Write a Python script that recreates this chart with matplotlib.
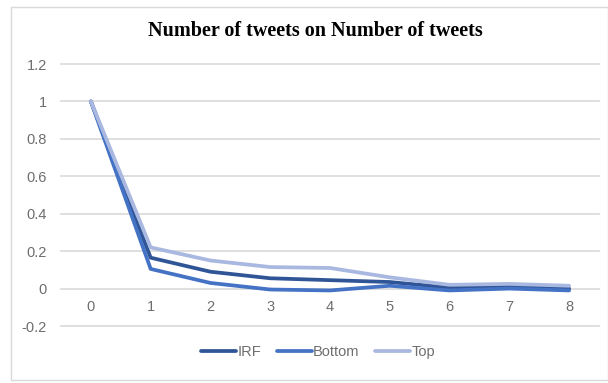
import matplotlib
matplotlib.use("Agg")
import matplotlib.pyplot as plt
from matplotlib.patches import Rectangle

periods = [0, 1, 2, 3, 4, 5, 6, 7, 8]
irf = [1.0, 0.165, 0.09, 0.055, 0.045, 0.035, 0.005, 0.01, 0.0]
bottom = [1.0, 0.105, 0.03, -0.005, -0.01, 0.015, -0.01, 0.0, -0.01]
top = [1.0, 0.22, 0.15, 0.115, 0.11, 0.06, 0.02, 0.025, 0.015]
y_ticks = [-0.2, 0, 0.2, 0.4, 0.6, 0.8, 1, 1.2]
y_labels = ["-0.2", "0", "0.2", "0.4", "0.6", "0.8", "1", "1.2"]

W, H = 608, 383
fig = plt.figure(figsize=(W / 100, H / 100), dpi=100)
fig.patch.set_facecolor("white")

# outer chart frame
fig.patches.append(Rectangle((11 / W, 1 - 380 / H), (W - 11) / W, (380 - 7) / H,
                             transform=fig.transFigure, fill=False,
                             edgecolor="#D9D9D9", linewidth=1.0))

TXT = "#6E6E6E"
left, right = 61, 599
top_px, bot_px = 64, 326
ax = fig.add_axes([left / W, 1 - bot_px / H, (right - left) / W, (bot_px - top_px) / H])
ax.set_xlim(-0.5, 8.5)
ax.set_ylim(-0.2, 1.2)

for s in ax.spines.values():
    s.set_visible(False)
ax.set_yticks(y_ticks)
ax.set_yticklabels(y_labels)
ax.yaxis.grid(True, color="#D9D9D9", linewidth=1.2)
for gl in ax.get_ygridlines():
    gl.set_clip_on(False)
ax.set_axisbelow(True)
ax.tick_params(axis="both", length=0, colors=TXT, labelsize=10.5)
ax.tick_params(axis="y", pad=10)
for lab in ax.get_yticklabels() + ax.get_xticklabels():
    lab.set_fontfamily("Liberation Sans")

ax.plot(periods, irf, color="#2F5597", linewidth=2.7, label="IRF", solid_capstyle="round")
ax.plot(periods, bottom, color="#4472C4", linewidth=2.7, label="Bottom", solid_capstyle="round")
ax.plot(periods, top, color="#A9B8E0", linewidth=2.7, label="Top", solid_capstyle="round")

# category labels sit just below the zero line
ax.set_xticks(periods)
ax.set_xticklabels([])
for p in periods:
    ax.text(p, -0.1, str(p), ha="center", va="center", color=TXT,
            fontsize=10.5, fontfamily="Liberation Sans")

fig.text(315 / W, 1 - 31 / H, "Number of tweets on Number of tweets",
         ha="center", va="center", fontsize=14.5, fontweight="bold",
         fontfamily="Liberation Serif", color="black")

leg = fig.legend(loc="center", bbox_to_anchor=(318 / W, 1 - 352 / H), ncol=3,
                 frameon=False, handlelength=2.4, handletextpad=0.1,
                 columnspacing=1.05, prop={"family": "Liberation Sans", "size": 10.5})
for t in leg.get_texts():
    t.set_color(TXT)

fig.savefig("out.png", dpi=100)
